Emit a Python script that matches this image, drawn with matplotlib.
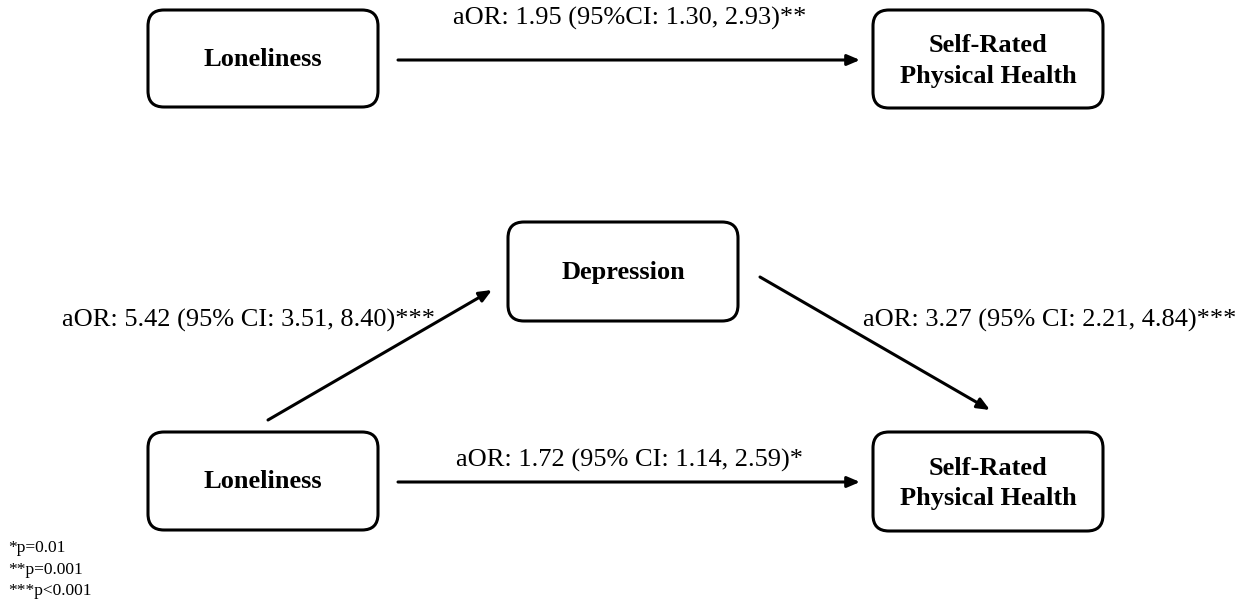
import matplotlib.pyplot as plt
from matplotlib.patches import FancyBboxPatch

# Textos del diagrama
box_labels = ["Loneliness", "Self-Rated\nPhysical Health", "Depression",
              "Loneliness", "Self-Rated\nPhysical Health"]
path_labels = ["aOR: 1.95 (95%CI: 1.30, 2.93)**",
               "aOR: 5.42 (95% CI: 3.51, 8.40)***",
               "aOR: 3.27 (95% CI: 2.21, 4.84)***",
               "aOR: 1.72 (95% CI: 1.14, 2.59)*"]
footnotes = ["*p=0.01", "**p=0.001", "***p<0.001"]

# Posiciones (pixeles) de las cajas: x, y_top, ancho, alto
boxes = [(148, 10, 230, 97), (873, 10, 230, 98), (508, 222, 230, 99),
         (148, 432, 230, 98), (873, 432, 230, 99)]
# Flechas: inicio, fin
arrows = [((398, 60), (860, 60)), ((268, 420), (492, 290)),
          ((760, 277), (990, 410)), ((398, 482), (860, 482))]
label_pos = [(630, 18), (248, 320), (1050, 320), (630, 460)]

plt.rcParams['font.family'] = ['Liberation Serif', 'DejaVu Serif']

fig = plt.figure(figsize=(12.56, 6.06), dpi=100)
ax = fig.add_axes([0, 0, 1, 1])
ax.set_xlim(0, 1256)
ax.set_ylim(606, 0)
ax.axis('off')

for (x, y, w, h), label in zip(boxes, box_labels):
    ax.add_patch(FancyBboxPatch((x, y), w, h, boxstyle="round,pad=0,rounding_size=16",
                                fc='white', ec='black', lw=2.2))
    dy = 2 if "\n" in label else 1
    ax.text(x + w / 2, y + h / 2 + dy, label, ha='center', va='center',
            fontsize=19, fontweight='bold', linespacing=1.42)

for (start, end) in arrows:
    ax.annotate("", xy=end, xytext=start,
                arrowprops=dict(arrowstyle="-|>,head_length=0.75,head_width=0.32",
                                color='black', lw=2.2, shrinkA=0, shrinkB=0))

for (x, y), label in zip(label_pos, path_labels):
    ax.text(x, y, label, ha='center', va='center', fontsize=19)

for i, note in enumerate(footnotes):
    ax.text(8, 548 + i * 21.5, note, ha='left', va='center', fontsize=12.5)

fig.savefig("out.png", dpi=100, facecolor='white')
